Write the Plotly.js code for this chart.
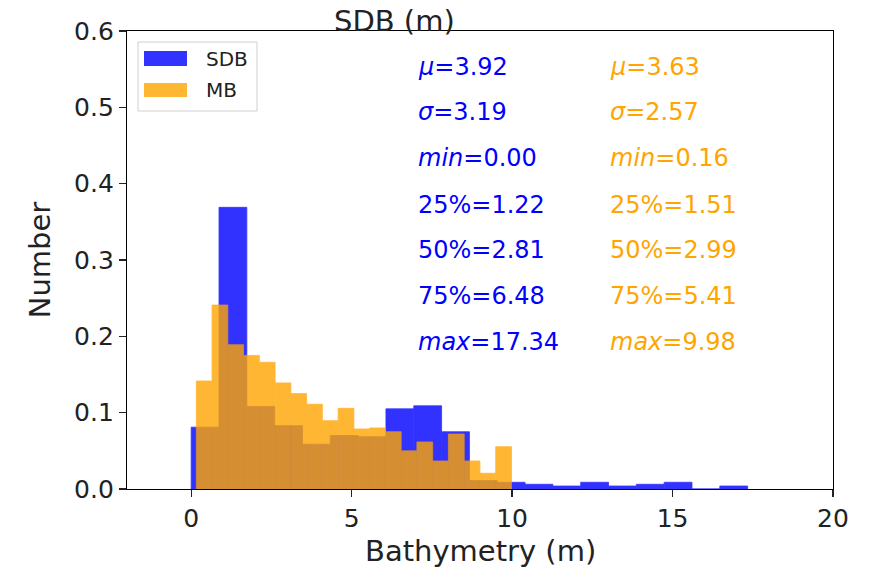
<!DOCTYPE html>
<html>
<head>
<meta charset="utf-8">
<script src="https://cdn.plot.ly/plotly-3.0.1.min.js"></script>
<style>html,body{margin:0;padding:0;background:#fff;}#chart{width:876px;height:570px;}</style>
</head>
<body>
<div id="chart"></div>
<script>
// ---- data ----
const sdbMin = 0.00, sdbMax = 17.34;
const sdbCounts = [0.081, 0.369, 0.108, 0.083, 0.0586, 0.070, 0.0685, 0.105, 0.109, 0.075,
                   0.011, 0.0088, 0.0062, 0.0039, 0.0088, 0.0039, 0.0062, 0.0088, 0.0, 0.0039];
const mbMin = 0.16, mbMax = 9.98;
const mbCounts = [0.1415, 0.241, 0.189, 0.175, 0.166, 0.139, 0.125, 0.111, 0.0895, 0.1057,
                  0.0786, 0.080, 0.075, 0.050, 0.0616, 0.0367, 0.072, 0.0367, 0.0206, 0.0554];
const seriesNames = ["SDB", "MB"];
const sdbStats = ["<i>μ</i>=3.92", "<i>σ</i>=3.19", "<i>min</i>=0.00", "25%=1.22", "50%=2.81", "75%=6.48", "<i>max</i>=17.34"];
const mbStats  = ["<i>μ</i>=3.63", "<i>σ</i>=2.57", "<i>min</i>=0.16", "25%=1.51", "50%=2.99", "75%=5.41", "<i>max</i>=9.98"];
const xTicks = [0, 5, 10, 15, 20];
const yTicks = [0.0, 0.1, 0.2, 0.3, 0.4, 0.5, 0.6];
const titleText = "SDB (m)", xTitle = "Bathymetry (m)", yTitle = "Number";

function bins(mn, mx, counts) {
  const w = (mx - mn) / counts.length;
  return { x: counts.map((_, i) => mn + w * (i + 0.5)), w: w };
}
const sb = bins(sdbMin, sdbMax, sdbCounts);
const mb = bins(mbMin, mbMax, mbCounts);

const FONT = "DejaVu Sans, sans-serif";
const BLUE = "#0000ff", ORANGE = "#ffa500";

const traces = [
  { type: "bar", x: sb.x, y: sdbCounts, width: sb.w, name: seriesNames[0],
    marker: { color: BLUE, line: { width: 0.8, color: BLUE } }, opacity: 0.8, showlegend: false, hoverinfo: "x+y" },
  { type: "bar", x: mb.x, y: mbCounts, width: mb.w, name: seriesNames[1],
    marker: { color: ORANGE, line: { width: 0.8, color: ORANGE } }, opacity: 0.8, showlegend: false, hoverinfo: "x+y" }
];

// plot area pixel geometry
const L = 127, R = 833, T = 31, B = 489, W = 876, H = 570;
const px = v => (v - L) / (R - L);
const py = v => (B - v) / (B - T);

const annotations = [];
const rowY = [67, 112, 158, 205, 250, 296, 342];
sdbStats.forEach((t, i) => annotations.push({ xref: "paper", yref: "paper", x: px(416), y: py(rowY[i]),
  xanchor: "left", yanchor: "middle", text: t, showarrow: false, font: { family: FONT, size: 24, color: BLUE } }));
mbStats.forEach((t, i) => annotations.push({ xref: "paper", yref: "paper", x: px(608), y: py(rowY[i]),
  xanchor: "left", yanchor: "middle", text: t, showarrow: false, font: { family: FONT, size: 24, color: ORANGE } }));

// legend (drawn manually to match wide swatches)
annotations.push({ xref: "paper", yref: "paper", x: px(204), y: py(59), xanchor: "left", yanchor: "middle",
  text: seriesNames[0], showarrow: false, font: { family: FONT, size: 20, color: "#222" } });
annotations.push({ xref: "paper", yref: "paper", x: px(204), y: py(90), xanchor: "left", yanchor: "middle",
  text: seriesNames[1], showarrow: false, font: { family: FONT, size: 20, color: "#222" } });

// title and x-axis title
annotations.push({ xref: "paper", yref: "paper", x: px(394), y: py(21), xanchor: "center", yanchor: "middle",
  text: titleText, showarrow: false, font: { family: FONT, size: 29, color: "#222" } });
annotations.push({ xref: "paper", yref: "paper", x: 0.5, y: py(551), xanchor: "center", yanchor: "middle",
  text: xTitle, showarrow: false, font: { family: FONT, size: 29, color: "#222" } });

const shapes = [
  { type: "rect", xref: "paper", yref: "paper", x0: px(138), x1: px(257), y0: py(42), y1: py(111),
    line: { color: "#d0d0d0", width: 1 }, fillcolor: "rgba(255,255,255,0.8)" },
  { type: "rect", xref: "paper", yref: "paper", x0: px(144), x1: px(187), y0: py(51), y1: py(66),
    line: { width: 0 }, fillcolor: "rgba(0,0,255,0.8)" },
  { type: "rect", xref: "paper", yref: "paper", x0: px(144), x1: px(187), y0: py(83), y1: py(97),
    line: { width: 0 }, fillcolor: "rgba(255,165,0,0.8)" }
];

const layout = {
  width: W, height: H,
  margin: { l: L, r: W - R, t: T, b: H - B, pad: 0 },
  paper_bgcolor: "#fff", plot_bgcolor: "#fff",
  barmode: "overlay",
  showlegend: false,
  font: { family: FONT, color: "#222" },
  xaxis: {
    range: [-2, 20], tickvals: xTicks, ticktext: xTicks.map(String),
    showgrid: false, zeroline: false, showline: true, mirror: true, linecolor: "#000", linewidth: 1.2,
    ticks: "outside", ticklen: 7, tickwidth: 1.2, tickcolor: "#222",
    tickfont: { family: FONT, size: 25, color: "#222" }
  },
  yaxis: {
    range: [0, 0.6], tickvals: yTicks, ticktext: yTicks.map(v => v.toFixed(1)),
    showgrid: false, zeroline: false, showline: true, mirror: true, linecolor: "#000", linewidth: 1.2,
    ticks: "outside", ticklen: 7, tickwidth: 1.2, tickcolor: "#222",
    tickfont: { family: FONT, size: 25, color: "#222" },
    title: { text: yTitle, font: { family: FONT, size: 29, color: "#222" }, standoff: 14 }
  },
  annotations: annotations,
  shapes: shapes
};

Plotly.newPlot("chart", traces, layout, { staticPlot: true, displayModeBar: false });
</script>
</body>
</html>
